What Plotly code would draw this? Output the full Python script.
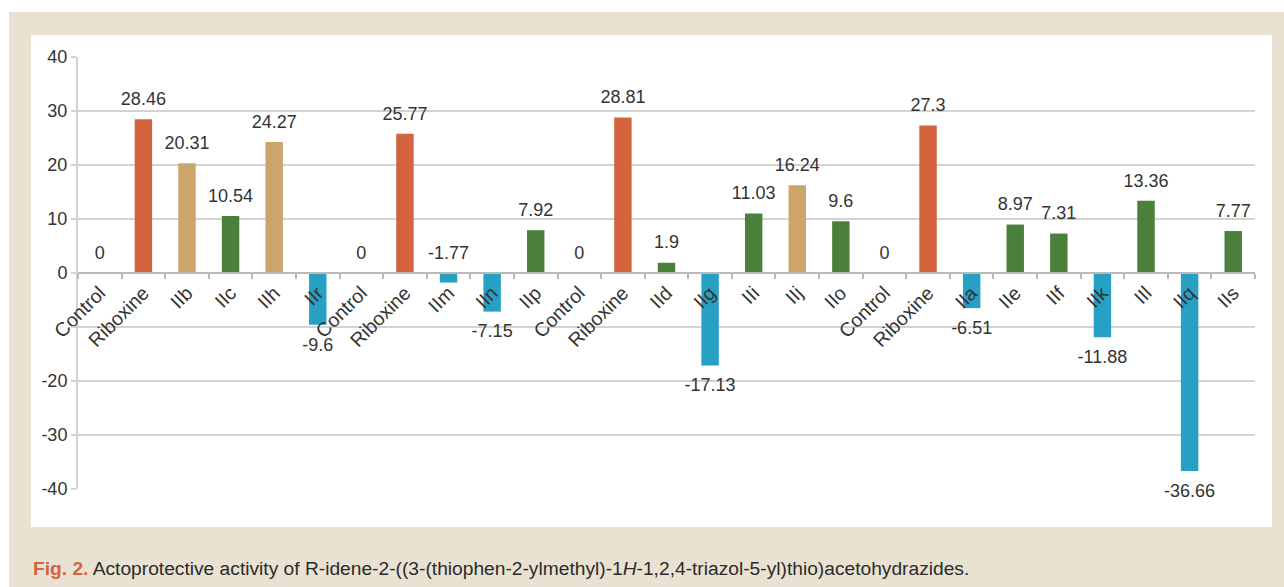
import plotly.graph_objects as go

categories = ["Control", "Riboxine", "IIb", "IIc", "IIh", "IIr",
              "Control", "Riboxine", "IIm", "IIn", "IIp",
              "Control", "Riboxine", "IId", "IIg", "IIi", "IIj", "IIo",
              "Control", "Riboxine", "IIa", "IIe", "IIf", "IIk", "IIl", "IIq", "IIs"]
values = [0, 28.46, 20.31, 10.54, 24.27, -9.6,
          0, 25.77, -1.77, -7.15, 7.92,
          0, 28.81, 1.9, -17.13, 11.03, 16.24, 9.6,
          0, 27.3, -6.51, 8.97, 7.31, -11.88, 13.36, -36.66, 7.77]
groups = ["ctrl", "ref", "high", "mid", "high", "neg",
          "ctrl", "ref", "neg", "neg", "mid",
          "ctrl", "ref", "mid", "neg", "mid", "high", "mid",
          "ctrl", "ref", "neg", "mid", "mid", "neg", "mid", "neg", "mid"]
# where each value label sits (above the zero line for the tiny -1.77 bar)
label_above = [v >= -2 for v in values]
y_ticks = [-40, -30, -20, -10, 0, 10, 20, 30, 40]
# the -10 label is hidden in the original (covered by the "Control" label)
y_ticktext = ["-40", "-30", "-20", "", "0", "10", "20", "30", "40"]

colors = {"ctrl": "#4A803B", "ref": "#D4643E", "high": "#CDA46C",
          "mid": "#4A803B", "neg": "#27A0C4"}

n = len(categories)
xs = list(range(n))
W, H = 1284, 587
L, R, T, B = 78, 29, 57, 98
pw, ph = W - L - R, H - T - B

def px_x(p):
    return (p - L) / pw

def px_y(p):
    return (H - B - p) / ph

fig = go.Figure()
fig.add_trace(go.Bar(x=xs, y=values, marker_color=[colors[g] for g in groups],
                     marker_line_width=0, width=0.4, hoverinfo="skip"))
for above in (True, False):
    idx = [i for i in xs if label_above[i] == above]
    fig.add_trace(go.Scatter(
        x=idx,
        y=[max(values[i], 0) if above else values[i] for i in idx],
        text=[f"{values[i]:g}" for i in idx],
        mode="markers+text",
        marker=dict(size=14 if above else 18, opacity=0),
        textposition="top center" if above else "bottom center",
        textfont=dict(family="Liberation Sans, Arial", size=18, color="#333333"),
        hoverinfo="skip", cliponaxis=False))

fig.update_layout(
    width=W, height=H, showlegend=False,
    margin=dict(l=L, r=R, t=T, b=B),
    paper_bgcolor="white", plot_bgcolor="rgba(0,0,0,0)",
    font=dict(family="Liberation Sans, Arial", size=18, color="#333333"),
    xaxis=dict(range=[-0.5, n - 0.5], tickmode="array", tickvals=xs, ticktext=categories,
               tickangle=-45, ticks="", showgrid=False, zeroline=False,
               anchor="free", position=0.5, showline=True, linecolor="#BABABA", linewidth=2,
               tickfont=dict(size=19.5, color="#333333"),
               minor=dict(ticks="outside", tick0=-0.5, dtick=1, ticklen=5, tickcolor="#BABABA",
                          tickwidth=2, showgrid=False)),
    yaxis=dict(range=[-40, 40], tickmode="array", tickvals=y_ticks, ticktext=y_ticktext,
               showgrid=True, gridcolor="#D3D3D3",
               gridwidth=2, zeroline=False, showline=True, linecolor="#D3D3D3", linewidth=2,
               ticks="outside", ticklen=5, tickcolor="#D3D3D3", tickwidth=2,
               tickfont=dict(size=18, color="#333333")),
    shapes=[
        dict(type="rect", xref="paper", yref="paper", layer="below",
             x0=px_x(9), x1=px_x(W + 5), y0=px_y(H + 5), y1=px_y(12),
             fillcolor="#E9E2D3", line_width=0),
        dict(type="rect", xref="paper", yref="paper", layer="below",
             x0=px_x(31), x1=px_x(1272), y0=px_y(527), y1=px_y(35),
             fillcolor="white", line_width=0),
    ],
    annotations=[
        dict(xref="paper", yref="paper", x=px_x(31), y=px_y(568), xanchor="left", yanchor="middle",
             showarrow=False,
             text="<span style='color:#D4643E'><b>Fig. 2.</b></span> Actoprotective activity of "
                  "R-idene-2-((3-(thiophen-2-ylmethyl)-1<i>H</i>-1,2,4-triazol-5-yl)thio)acetohydrazides.",
             font=dict(family="Liberation Sans, Arial", size=19.2, color="#2B2B2B")),
    ],
)

fig.write_html("out.html", config={"displayModeBar": False},
               post_script="document.body.style.margin='0';")
